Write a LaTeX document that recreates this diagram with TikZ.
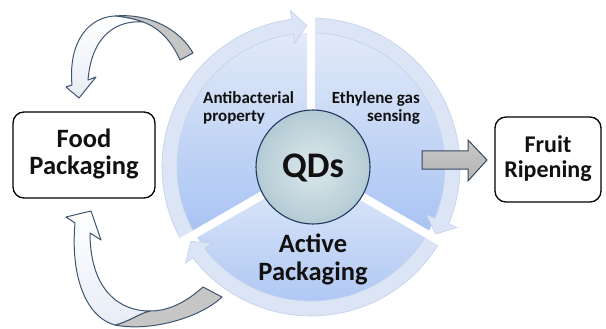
\documentclass[tikz,border=0pt]{standalone}
\usepackage{fontspec}
\setmainfont{Carlito}
\usetikzlibrary{calc}
\definecolor{wtop}{HTML}{E2EAF8}
\definecolor{wbot}{HTML}{A8C3F3}
\definecolor{bandc}{HTML}{DCE5F6}
\definecolor{bandline}{HTML}{C2D0EA}
\definecolor{qin}{HTML}{DCE8EC}
\definecolor{qout}{HTML}{B4CBD4}
\definecolor{qb}{HTML}{1F3864}
\definecolor{txt}{HTML}{111111}
\definecolor{gaA}{HTML}{C8C8C8}
\definecolor{gaB}{HTML}{E2E2E2}
\definecolor{gaC}{HTML}{B4B4B4}
\definecolor{galine}{HTML}{35475B}
\definecolor{cvline}{HTML}{3E5571}
\definecolor{cvwhite}{HTML}{E8EDF6}
\definecolor{cvgray}{HTML}{C6C6C6}
\begin{document}
\begin{tikzpicture}[x=1pt,y=-1pt,
  wedge/.style={top color=wtop,bottom color=wbot,draw=none},
  band/.style={fill=bandc,draw=bandline,line width=0.6pt},
  gapline/.style={draw=white,line width=8pt},
  lbl/.style={font=\bfseries\fontsize{17}{20}\selectfont,text=txt,inner sep=0pt},
  big/.style={font=\bfseries\fontsize{26.5}{30}\selectfont,text=txt,inner sep=0pt},
  mid/.style={font=\bfseries\fontsize{24}{28}\selectfont,text=txt,inner sep=0pt},
  box/.style={draw=black,line width=1.3pt,rounded corners=11pt,fill=white},
  grayarr/.style={top color=gaA,middle color=gaB,bottom color=gaC,draw=galine,line width=1pt},
  curvw/.style={top color=white,bottom color=cvwhite,draw=cvline,line width=1pt,line join=round},
  curvg/.style={fill=cvgray,draw=cvline,line width=1pt,line join=round}]
\useasboundingbox (0,0) rectangle (606,329);
\coordinate (C) at (311,167);
% wedges
\foreach \a/\b in {-210/-90,-90/30,30/150}{
  \shade[wedge] (C) -- ($(C)+(\a:134)$) arc[start angle=\a,end angle=\b,radius=134] -- cycle;
}
% arrow bands
\foreach \a/\b in {-210/-90,-90/30,30/150}{
  \path[band] ($(C)+(\a:149)$) arc[start angle=\a,end angle={\b-7.5},radius=149]
    -- ($(C)+({\b-7.5}:158)$) -- ($(C)+({\b-1.7}:141.5)$) -- ($(C)+({\b-7.5}:125)$)
    -- ($(C)+({\b-7.5}:134)$) arc[start angle={\b-7.5},end angle=\a,radius=134] -- cycle;
}
% gaps
\foreach \g in {-90,30,150}{
  \draw[gapline] (C) -- ($(C)+(\g:162)$);
}
% centre
\node[circle,minimum size=114pt,inner sep=0pt,draw=qb,line width=1.1pt,
      inner color=qin,outer color=qout,text=txt,
      font=\bfseries\fontsize{36}{40}\selectfont,text height=22pt,text depth=0pt] (qds) at (313,167) {QDs};
% segment labels
\node[lbl,anchor=base west] (anti1) at (203,104) {Antibacterial};
\node[lbl,anchor=base west] (anti2) at (203,122) {property};
\node[lbl,anchor=base east] (eth1) at (420,104) {Ethylene gas};
\node[lbl,anchor=base east] (eth2) at (420,122) {sensing};
\node[big,anchor=base] (act1) at (313,252) {Active};
\node[big,anchor=base] (act2) at (313,280) {Packaging};
% boxes
\node[box,minimum width=142pt,minimum height=86pt] (foodbox) at (84,155) {};
\node[big,anchor=base] (food1) at (84,148) {Food};
\node[big,anchor=base] (food2) at (84,175) {Packaging};
\node[box,minimum width=106pt,minimum height=85pt] (fruitbox) at (548,159.5) {};
\node[mid,anchor=base] (fruit1) at (548,153) {Fruit};
\node[mid,anchor=base] (fruit2) at (548,178) {Ripening};
% grey block arrow to Fruit Ripening
\shadedraw[grayarr] (422,151) -- (468,151) -- (468,140) -- (487,160) -- (468,181) -- (468,169) -- (422,169) -- cycle;
% upper curved arrow
\filldraw[curvg] (115,16) .. controls (150,13) and (180,30) .. (193,53) -- (180,60)
   .. controls (172,42) and (160,28) .. (143,22) .. controls (135,19) and (125,17) .. (115,16) -- cycle;
\shadedraw[curvw] (72,85) .. controls (68,40) and (90,17) .. (115,16)
   .. controls (125,17) and (135,19) .. (143,22) .. controls (120,20) and (92,32) .. (88,80)
   -- (96,77) -- (79,98) -- (66,87) -- cycle;
% lower curved arrow
\filldraw[curvg] (115,325) .. controls (150,332) and (200,318) .. (222,297) -- (203,287)
   .. controls (185,303) and (168,311) .. (150,311) .. controls (140,313) and (128,322) .. (115,325) -- cycle;
\shadedraw[curvw] (75,223) .. controls (70,280) and (88,318) .. (115,325)
   .. controls (128,322) and (140,313) .. (150,311) .. controls (115,311) and (90,285) .. (90,233)
   -- (101,240) -- (91,211) -- (66,217) -- cycle;
\end{tikzpicture}
\end{document}
